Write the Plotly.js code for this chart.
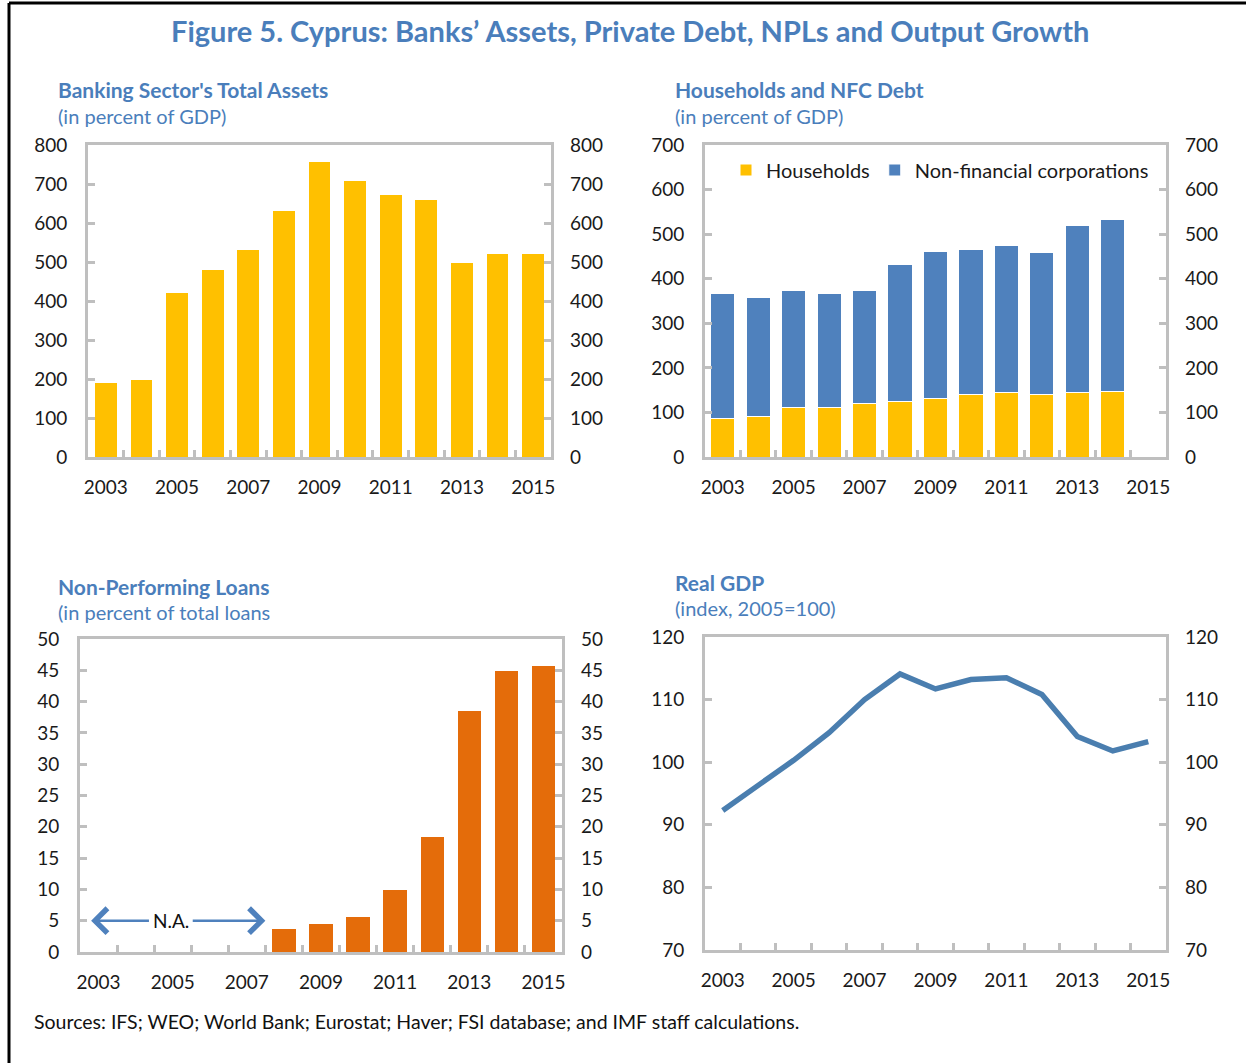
<!DOCTYPE html>
<html>
<head>
<meta charset="utf-8">
<script src="https://cdn.plot.ly/plotly-3.0.1.min.js"></script>
<style>
  html, body { margin: 0; padding: 0; background: #fff; }
  #chart { width: 1246px; height: 1063px; }
</style>
</head>
<body>
<div id="chart"></div>
<script>
  // --- data ---
  const years = [2003, 2004, 2005, 2006, 2007, 2008, 2009, 2010, 2011, 2012, 2013, 2014, 2015];

  // banking sector total assets, % of GDP
  const bankAssets = [192, 198, 422, 480, 533, 632, 757, 708, 674, 660, 499, 523, 523];

  // household / NFC debt, % of GDP (2003-2014)
  const debtYears = [2003, 2004, 2005, 2006, 2007, 2008, 2009, 2010, 2011, 2012, 2013, 2014];
  const households = [87, 91, 111, 111, 119, 124, 131, 140, 144, 140, 144, 148];
  const nfc = [279, 267, 263, 255, 255, 309, 331, 326, 330, 318, 376, 384];

  // NPLs, % of total loans (n.a. before 2008)
  const nplYears = [2008, 2009, 2010, 2011, 2012, 2013, 2014, 2015];
  const npl = [3.7, 4.6, 5.7, 10.0, 18.4, 38.5, 45.0, 45.7];

  // real GDP index, 2005 = 100
  const gdp = [92.3, 96.4, 100.3, 104.7, 110.0, 114.1, 111.7, 113.2, 113.5, 110.8, 104.1, 101.8, 103.3];

  const xLabels = [2003, 2005, 2007, 2009, 2011, 2013, 2015];
  const halfYears = years.slice(0, -1).map(y => y + 0.5);

  // --- styling ---
  const FONT = 'Lato, "DejaVu Sans", sans-serif';
  const BLUE_T = '#4a7ebb';
  const GRID = '#bfbfbf';
  const W = 1246, H = 1063;
  const px = v => v / W;
  const py = v => 1 - v / H;

  function xAxis(domain, anchor) {
    return {
      domain, anchor, range: [2002.5, 2015.5],
      tickmode: 'array', tickvals: xLabels, ticks: '',
      showline: true, linecolor: GRID, linewidth: 3, mirror: true,
      showgrid: false, zeroline: false,
      tickfont: { size: 19, color: '#1a1a1a' }, ticklabelstandoff: 11,
      minor: { tickmode: 'array', tickvals: halfYears, ticks: 'inside', ticklen: 7, tickwidth: 3, tickcolor: GRID, showgrid: false },
      fixedrange: true
    };
  }
  function yAxis(domain, anchor, range, dtick) {
    return {
      domain, anchor, range, dtick, tick0: range[0],
      ticks: 'inside', ticklen: 7, tickwidth: 3, tickcolor: GRID,
      showline: true, linecolor: GRID, linewidth: 3, mirror: 'allticks',
      showgrid: false, zeroline: false,
      tickfont: { size: 19, color: '#1a1a1a' }, ticklabelstandoff: 14,
      fixedrange: true
    };
  }
  function yRight(overlay, anchor, range, dtick) {
    return {
      overlaying: overlay, anchor, side: 'right', range, dtick, tick0: range[0],
      ticks: '', showline: false, showgrid: false, zeroline: false,
      tickfont: { size: 19, color: '#1a1a1a' }, ticklabelstandoff: 18,
      fixedrange: true
    };
  }

  const dx1 = [px(88), px(551)], dx2 = [px(705), px(1166)], dx3 = [px(80), px(562)];
  const dyTop = [py(457), py(145)], dy3 = [py(952), py(639)], dy4 = [py(950), py(637)];

  const traces = [
    { type: 'bar', x: years, y: bankAssets, xaxis: 'x', yaxis: 'y', width: 0.64,
      marker: { color: '#FFC000', line: { color: '#fff', width: 1 } }, showlegend: false },
    { type: 'bar', x: debtYears, y: households, xaxis: 'x2', yaxis: 'y2', width: 0.68, name: 'Households',
      marker: { color: '#FFC000', line: { color: '#fff', width: 1 } } },
    { type: 'bar', x: debtYears, y: nfc, xaxis: 'x2', yaxis: 'y2', width: 0.68, name: 'Non-financial corporations',
      marker: { color: '#4F81BD', line: { color: '#fff', width: 1 } } },
    { type: 'bar', x: nplYears, y: npl, xaxis: 'x3', yaxis: 'y3', width: 0.66,
      marker: { color: '#E46C0A', line: { color: '#fff', width: 1 } }, showlegend: false },
    { type: 'scatter', mode: 'lines', x: years, y: gdp, xaxis: 'x4', yaxis: 'y4',
      line: { color: '#4A7EAF', width: 5.5 }, showlegend: false }
  ];
  // empty traces so the right-hand label axes get drawn
  [['x', 'y5'], ['x2', 'y6'], ['x3', 'y7'], ['x4', 'y8']].forEach(([xa, ya]) => {
    traces.push({ type: 'scatter', mode: 'lines', x: [], y: [], xaxis: xa, yaxis: ya, showlegend: false, hoverinfo: 'skip' });
  });

  const ann = (text, x, y, size, bold, color, anchor) => ({
    xref: 'paper', yref: 'paper', x: px(x), y: py(y), xanchor: anchor || 'left', yanchor: 'middle',
    showarrow: false, text: bold ? '<b>' + text + '</b>' : text,
    font: { family: FONT, size, color: color || BLUE_T }
  });

  const annotations = [
    ann('Figure 5. Cyprus: Banks’ Assets, Private Debt, NPLs and Output Growth', 630, 31, 29, true, BLUE_T, 'center'),
    ann('Banking Sector\'s Total Assets', 56, 90, 21, true),
    ann('(in percent of GDP)', 56, 116, 20, false),
    ann('Households and NFC Debt', 673, 90, 21, true),
    ann('(in percent of GDP)', 673, 116, 20, false),
    ann('Non-Performing Loans', 56, 586, 21, true),
    ann('(in percent of total loans', 56, 612, 20, false),
    ann('Real GDP', 673, 582, 21, true),
    ann('(index, 2005=100)', 673, 608, 20, false),
    ann('Sources: IFS; WEO; World Bank; Eurostat; Haver; FSI database; and IMF staff calculations.', 32, 1021, 19.5, false, '#111'),
    // N.A. marker with arrows in the NPL panel
    { xref: 'x3', yref: 'y3', x: 2004.95, y: 5, text: 'N.A.', showarrow: false,
      font: { family: FONT, size: 19, color: '#111' } },
    { xref: 'x3', yref: 'y3', axref: 'x3', ayref: 'y3', x: 2002.8, y: 5, ax: 2004.4, ay: 5,
      text: '', showarrow: true, arrowhead: 4, arrowsize: 2, arrowwidth: 2.4, arrowcolor: '#4F81BD' },
    { xref: 'x3', yref: 'y3', axref: 'x3', ayref: 'y3', x: 2007.5, y: 5, ax: 2005.5, ay: 5,
      text: '', showarrow: true, arrowhead: 4, arrowsize: 2, arrowwidth: 2.4, arrowcolor: '#4F81BD' }
  ];

  const layout = {
    width: W, height: H,
    margin: { l: 0, r: 0, t: 0, b: 0 },
    paper_bgcolor: '#fff', plot_bgcolor: '#fff',
    font: { family: FONT, color: '#1a1a1a' },
    barmode: 'stack',
    showlegend: true,
    legend: { orientation: 'h', x: px(726), y: py(170), xanchor: 'left', yanchor: 'middle',
      traceorder: 'normal', font: { size: 20, color: '#1a1a1a' }, bgcolor: 'rgba(0,0,0,0)' },
    xaxis: xAxis(dx1, 'y'), yaxis: yAxis(dyTop, 'x', [0, 800], 100),
    xaxis2: xAxis(dx2, 'y2'), yaxis2: yAxis(dyTop, 'x2', [0, 700], 100),
    xaxis3: xAxis(dx3, 'y3'), yaxis3: yAxis(dy3, 'x3', [0, 50], 5),
    xaxis4: xAxis(dx2, 'y4'), yaxis4: yAxis(dy4, 'x4', [70, 120], 10),
    yaxis5: yRight('y', 'x', [0, 800], 100),
    yaxis6: yRight('y2', 'x2', [0, 700], 100),
    yaxis7: yRight('y3', 'x3', [0, 50], 5),
    yaxis8: yRight('y4', 'x4', [70, 120], 10),
    annotations,
    shapes: [
      { type: 'line', xref: 'paper', yref: 'paper', x0: px(9), x1: 1.01, y0: py(3), y1: py(3), line: { color: '#000', width: 3 } },
      { type: 'line', xref: 'paper', yref: 'paper', x0: px(9), x1: px(9), y0: py(3), y1: -0.01, line: { color: '#000', width: 3 } }
    ]
  };

  Plotly.newPlot('chart', traces, layout, { displayModeBar: false, staticPlot: true });
</script>
</body>
</html>
